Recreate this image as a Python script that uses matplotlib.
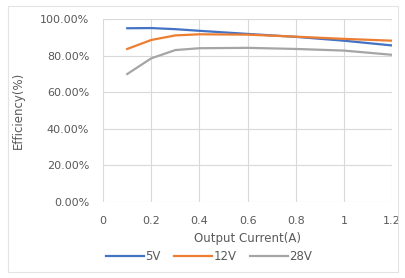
import matplotlib.pyplot as plt
from matplotlib.patches import Rectangle
from matplotlib.ticker import FuncFormatter

# output current (A)
current = [0.1, 0.2, 0.3, 0.4, 0.6, 0.8, 1.0, 1.2]

# efficiency (%) for each output voltage
eff_5v = [94.9, 95.0, 94.4, 93.5, 91.8, 90.2, 88.1, 85.5]
eff_12v = [83.6, 88.5, 91.0, 91.6, 91.4, 90.3, 89.1, 88.1]
eff_28v = [69.9, 78.5, 83.0, 84.0, 84.2, 83.6, 82.7, 80.4]

series = [('5V', eff_5v, '#4472C4'),
          ('12V', eff_12v, '#ED7D31'),
          ('28V', eff_28v, '#A5A5A5')]

text_color = '#595959'

fig = plt.figure(figsize=(4.06, 2.78), dpi=100)
fig.patch.set_facecolor('white')

# light chart-area border like the spreadsheet export
fig.patches.append(Rectangle((0.02, 0.02), 0.96, 0.96, transform=fig.transFigure,
                             fill=False, edgecolor='#E3E3E3', linewidth=0.8))

ax = fig.add_axes([0.254, 0.273, 0.712, 0.659])

for name, vals, col in series:
    ax.plot(current, vals, color=col, linewidth=1.6, label=name)

ax.set_xlim(0, 1.2)
ax.set_ylim(0, 100)
ax.set_xticks([0, 0.2, 0.4, 0.6, 0.8, 1.0, 1.2])
ax.set_xticklabels(['0', '0.2', '0.4', '0.6', '0.8', '1', '1.2'])
ax.set_yticks([0, 20, 40, 60, 80, 100])
ax.yaxis.set_major_formatter(FuncFormatter(lambda v, p: '%.2f%%' % v))

ax.grid(True, color='#D9D9D9', linewidth=0.8)
ax.set_axisbelow(True)
for s in ax.spines.values():
    s.set_visible(False)
ax.tick_params(length=0, labelsize=8, colors=text_color, pad=10)

ax.set_xlabel('Output Current(A)', fontsize=8.5, color=text_color, labelpad=4)
ax.set_ylabel('Efficiency(%)', fontsize=8.5, color=text_color, labelpad=11)

leg = fig.legend(loc='center', bbox_to_anchor=(0.515, 0.077), ncol=3, frameon=False,
                 fontsize=8.5, handlelength=3.2, handletextpad=0.1, columnspacing=1.2)
for t in leg.get_texts():
    t.set_color(text_color)

plt.savefig('out.png', dpi=100)
